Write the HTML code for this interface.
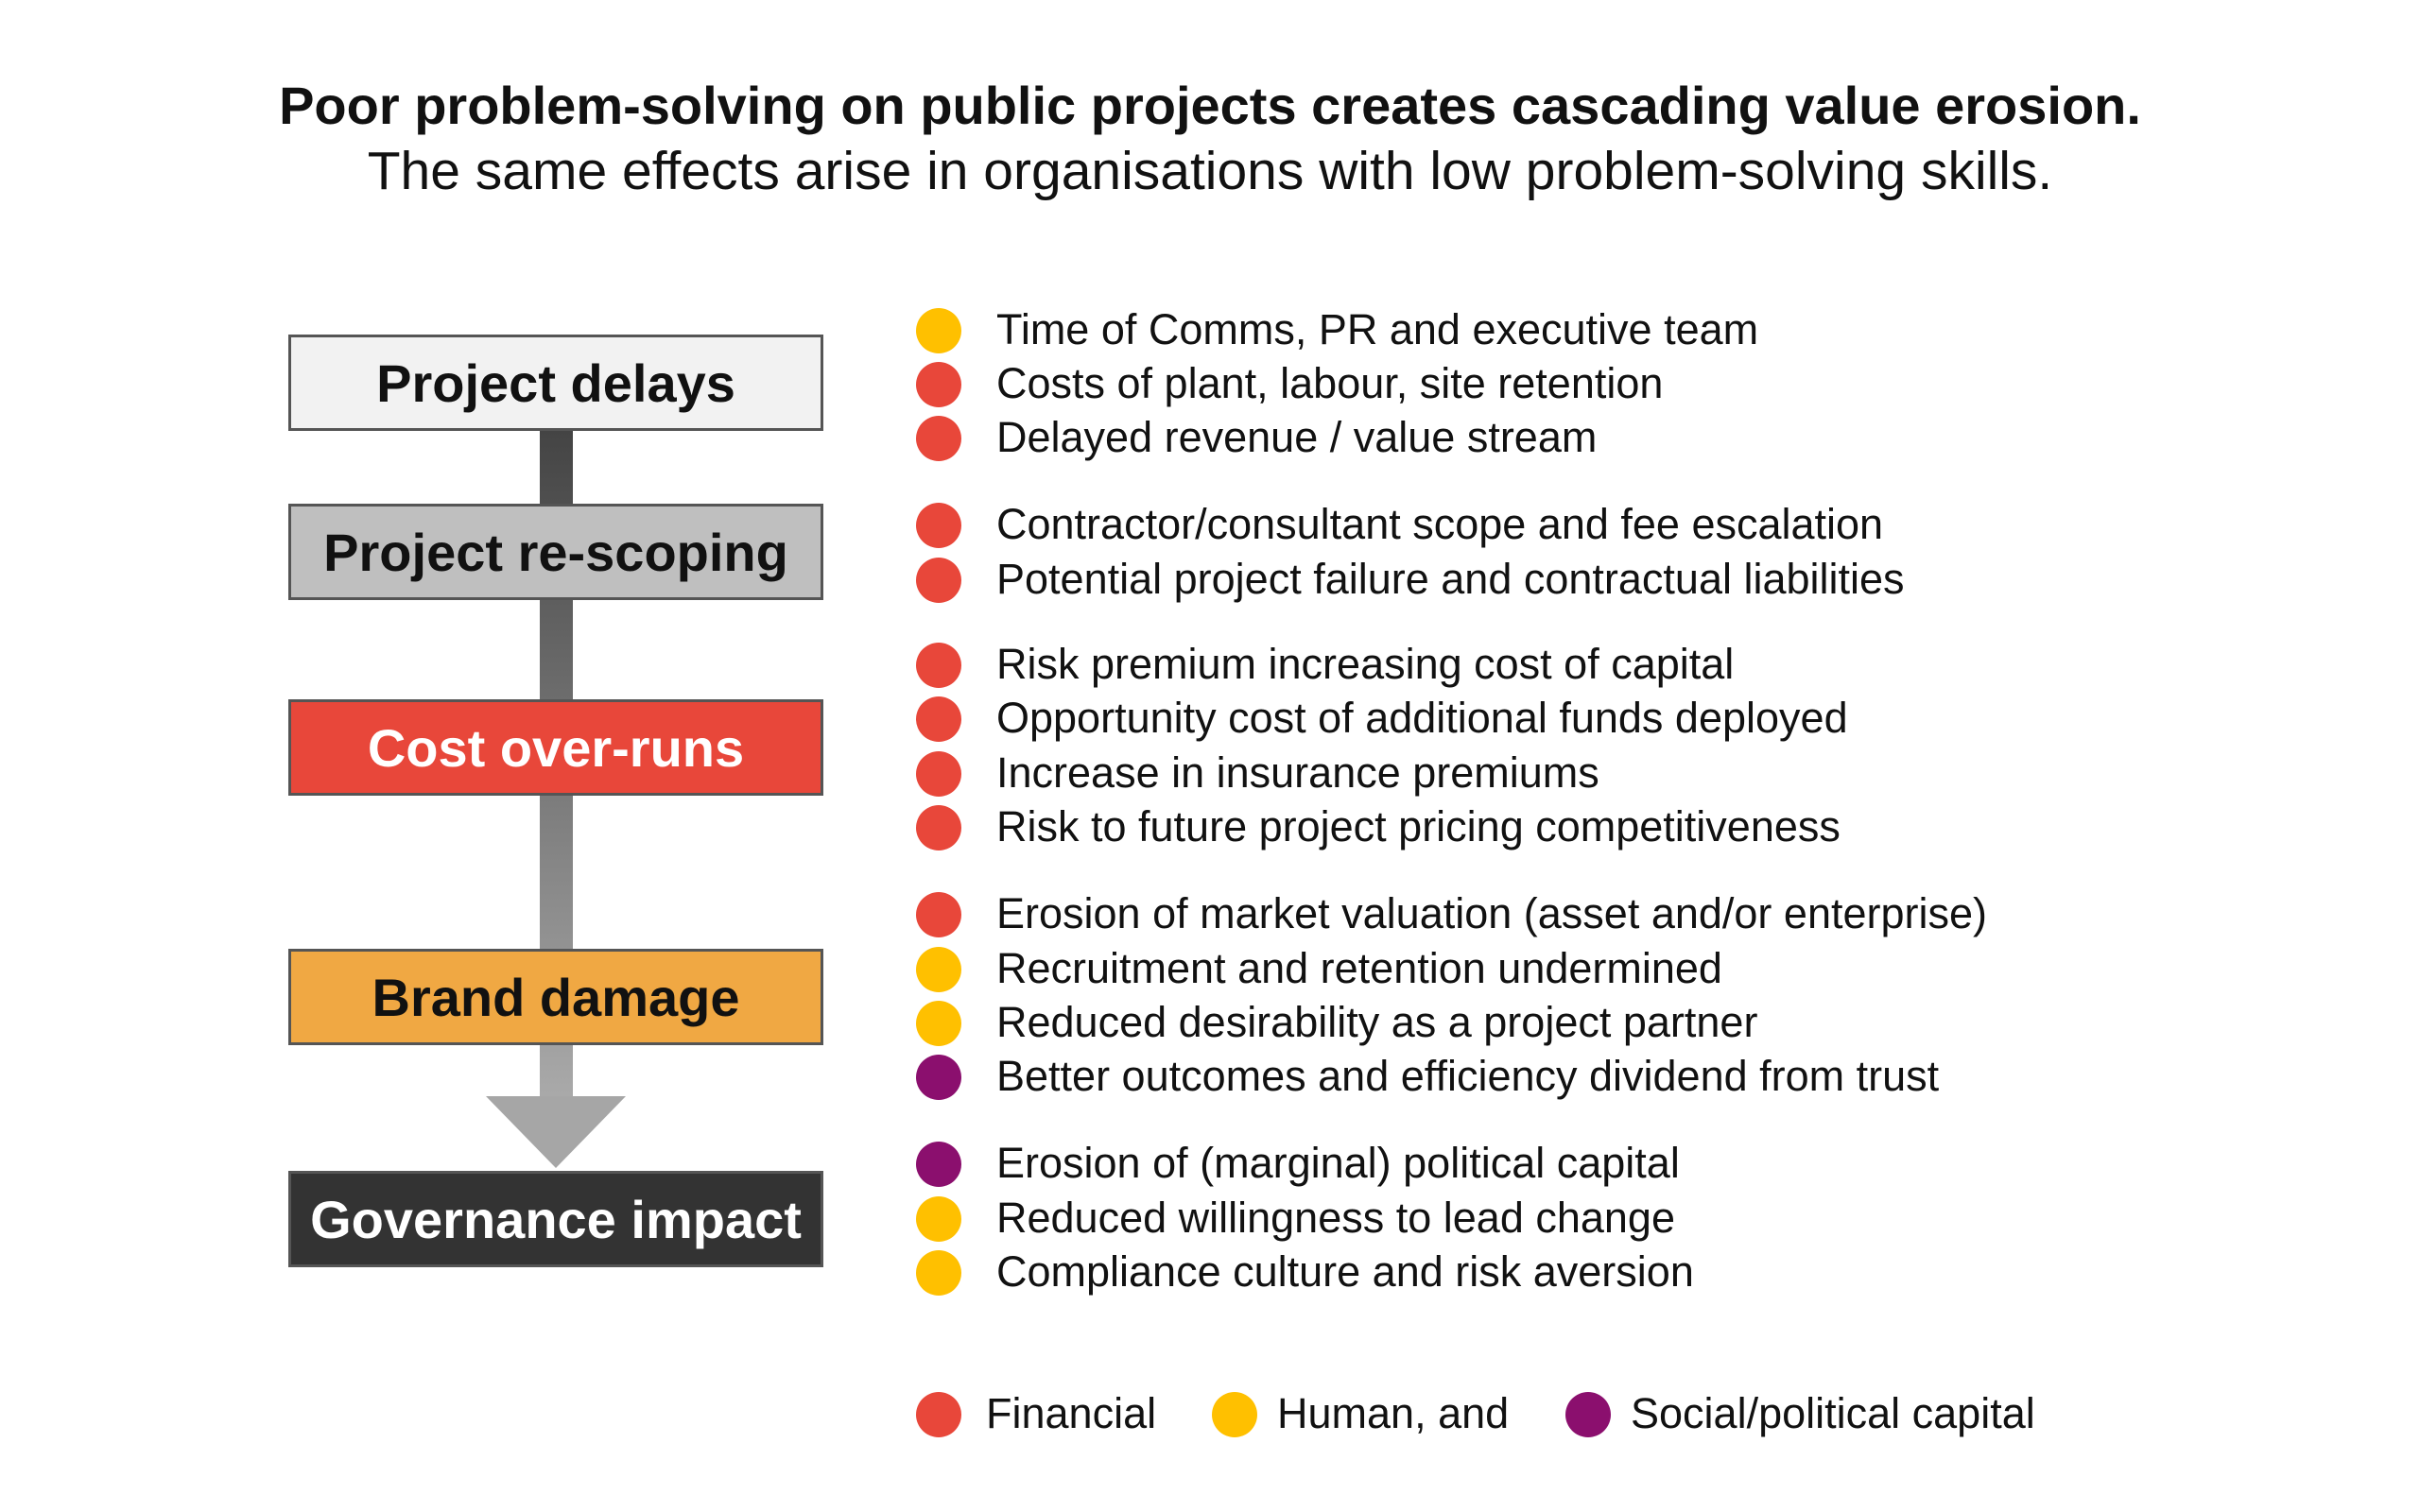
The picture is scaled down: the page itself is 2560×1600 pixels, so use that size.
<!DOCTYPE html>
<html><head><meta charset="utf-8"><style>
body{margin:0;width:2560px;height:1600px;background:#fff;position:relative;overflow:hidden;font-family:"Liberation Sans",sans-serif;color:#111}
.t{position:absolute;left:0;width:2560px;text-align:center;white-space:nowrap}
.box{position:absolute;left:305px;width:566px;height:102px;border:3px solid #555;box-sizing:border-box;display:flex;align-items:center;justify-content:center;font-weight:bold;font-size:56px}
.dot{position:absolute;width:48px;height:48px;border-radius:50%}
.tx{position:absolute;font-size:45px;white-space:nowrap;line-height:50px}
.r{background:#E8473A}.y{background:#FFC000}.p{background:#8B0F6E}
</style></head><body>
<div class="t" style="top:79px;font-size:56px;font-weight:bold">Poor problem-solving on public projects creates cascading value erosion.</div>
<div class="t" style="top:148px;font-size:57px">The same effects arise in organisations with low problem-solving skills.</div>

<div style="position:absolute;left:571px;top:455px;width:35px;height:710px;background:linear-gradient(#444,#aaa)"></div>
<svg style="position:absolute;left:514px;top:1160px" width="148" height="76"><polygon points="0,0 148,0 74,76" fill="#a6a6a6"/></svg>

<div class="box" style="top:354px;background:#F2F2F2">Project delays</div>
<div class="box" style="top:533px;background:#BFBFBF">Project re-scoping</div>
<div class="box" style="top:740px;background:#E8473A;color:#fff">Cost over-runs</div>
<div class="box" style="top:1004px;background:#F0A843">Brand damage</div>
<div class="box" style="top:1239px;background:#333;color:#fff">Governance impact</div>

<div class="dot y" style="left:969px;top:326px"></div><div class="tx" style="left:1054px;top:324px">Time of Comms, PR and executive team</div>
<div class="dot r" style="left:969px;top:383px"></div><div class="tx" style="left:1054px;top:381px">Costs of plant, labour, site retention</div>
<div class="dot r" style="left:969px;top:440px"></div><div class="tx" style="left:1054px;top:438px">Delayed revenue / value stream</div>
<div class="dot r" style="left:969px;top:532px"></div><div class="tx" style="left:1054px;top:530px">Contractor/consultant scope and fee escalation</div>
<div class="dot r" style="left:969px;top:590px"></div><div class="tx" style="left:1054px;top:588px">Potential project failure and contractual liabilities</div>
<div class="dot r" style="left:969px;top:680px"></div><div class="tx" style="left:1054px;top:678px">Risk premium increasing cost of capital</div>
<div class="dot r" style="left:969px;top:737px"></div><div class="tx" style="left:1054px;top:735px">Opportunity cost of additional funds deployed</div>
<div class="dot r" style="left:969px;top:795px"></div><div class="tx" style="left:1054px;top:793px">Increase in insurance premiums</div>
<div class="dot r" style="left:969px;top:852px"></div><div class="tx" style="left:1054px;top:850px">Risk to future project pricing competitiveness</div>
<div class="dot r" style="left:969px;top:944px"></div><div class="tx" style="left:1054px;top:942px">Erosion of market valuation (asset and/or enterprise)</div>
<div class="dot y" style="left:969px;top:1002px"></div><div class="tx" style="left:1054px;top:1000px">Recruitment and retention undermined</div>
<div class="dot y" style="left:969px;top:1059px"></div><div class="tx" style="left:1054px;top:1057px">Reduced desirability as a project partner</div>
<div class="dot p" style="left:969px;top:1116px"></div><div class="tx" style="left:1054px;top:1114px">Better outcomes and efficiency dividend from trust</div>
<div class="dot p" style="left:969px;top:1208px"></div><div class="tx" style="left:1054px;top:1206px">Erosion of (marginal) political capital</div>
<div class="dot y" style="left:969px;top:1266px"></div><div class="tx" style="left:1054px;top:1264px">Reduced willingness to lead change</div>
<div class="dot y" style="left:969px;top:1323px"></div><div class="tx" style="left:1054px;top:1321px;width:755px;overflow:hidden">Compliance culture and risk aversion</div>

<div class="dot r" style="left:969px;top:1473px"></div><div class="tx" style="left:1043px;top:1471px">Financial</div>
<div class="dot y" style="left:1282px;top:1473px"></div><div class="tx" style="left:1351px;top:1471px">Human, and</div>
<div class="dot p" style="left:1656px;top:1473px"></div><div class="tx" style="left:1725px;top:1471px">Social/political capital</div>
</body></html>
